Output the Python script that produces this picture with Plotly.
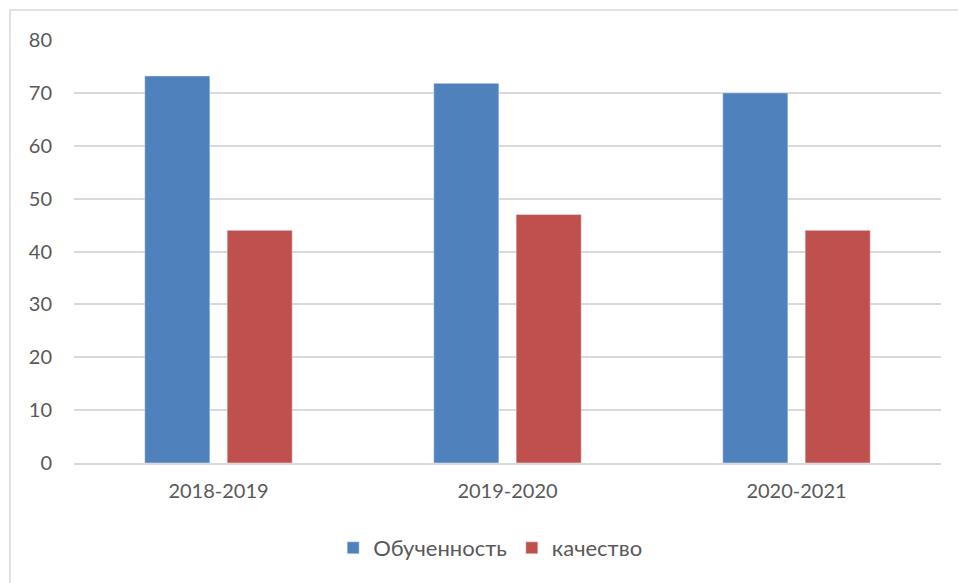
import plotly.graph_objects as go

categories = ["2018-2019", "2019-2020", "2020-2021"]
obuchennost = [73.2, 71.8, 70]
kachestvo = [44, 47, 44]
series_names = ["Обученность", "качество"]
y_ticks = [0, 10, 20, 30, 40, 50, 60, 70, 80]

W, H = 958, 575
L, R, T, B = 66, 25, 32, 120
pw = W - L - R
ph = H - T - B

fig = go.Figure()
fig.add_trace(go.Bar(x=categories, y=obuchennost, name=series_names[0], marker_color="#4F81BD"))
fig.add_trace(go.Bar(x=categories, y=kachestvo, name=series_names[1], marker_color="#C0504D"))

fam = "Lato, Open Sans, sans-serif"
fig.update_layout(
    width=W, height=H,
    margin=dict(l=L, r=R, t=T, b=B),
    paper_bgcolor="white", plot_bgcolor="white",
    barmode="group", bargap=0.43, bargroupgap=0.21,
    font=dict(family=fam, size=20, color="#595959"),
    showlegend=True,
    legend=dict(orientation="h", x=0.48, xanchor="center", y=(T + ph - 540) / ph, yanchor="middle",
                font=dict(family=fam, size=22, color="#595959"),
                itemwidth=30, traceorder="normal"),
    xaxis=dict(showgrid=False, showline=True, linecolor="#D9D9D9", linewidth=1.5, ticks="",
               tickfont=dict(size=20), ticklabelstandoff=9),
    yaxis=dict(range=[0, 80], tickvals=y_ticks, showgrid=True, gridcolor="#D9D9D9", gridwidth=1.5,
               zeroline=False, showline=False, ticks="", tickfont=dict(size=20), ticklabelstandoff=21),
    shapes=[dict(type="rect", xref="paper", yref="paper",
                 x0=(2 - L) / pw, x1=(W + 20 - L) / pw,
                 y0=(T + ph - (H + 20)) / ph, y1=(T + ph - 2) / ph,
                 line=dict(color="#D9D9D9", width=1.5), fillcolor="rgba(0,0,0,0)", layer="below")],
)
fig.write_html("out.html")
